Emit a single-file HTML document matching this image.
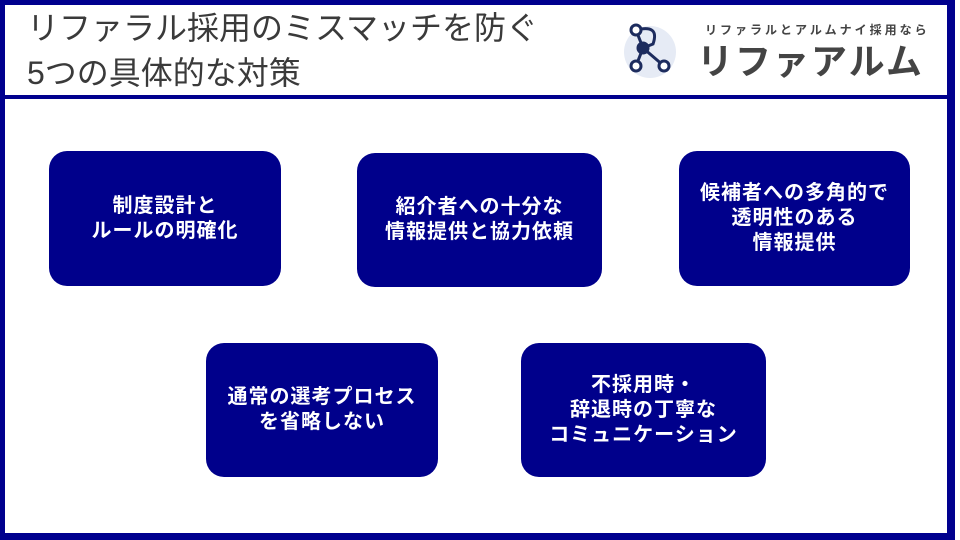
<!DOCTYPE html>
<html><head><meta charset="utf-8"><style>
body{margin:0;width:960px;height:540px;position:relative;background:#fff;overflow:hidden;font-family:"Liberation Sans","Noto Sans CJK JP",sans-serif}
.frame{position:absolute;left:0;top:0;width:942px;height:528px;border:5px solid #00008e;border-right-width:8px;border-bottom-width:7px}
.div{position:absolute;left:0;top:95px;width:955px;height:4px;background:#00008e}
.t{position:absolute;left:27px;color:#3a3a3a;font-size:32px;line-height:44px;white-space:nowrap}
.b{position:absolute;background:#00008b;border-radius:18px;color:#fff;font-weight:bold;font-size:20px;letter-spacing:1px;line-height:25px;display:flex;align-items:center;justify-content:center;text-align:center}
</style></head><body>
<div class="frame"></div><div class="div"></div>
<div class="t" style="top:6px">リファラル採用のミスマッチを防ぐ</div>
<div class="t" style="top:51px">5つの具体的な対策</div>
<svg style="position:absolute;left:620px;top:20px" width="60" height="62">
<circle cx="30" cy="32" r="26" fill="#e6ebf5"/>
<g stroke="#1d2c5e" stroke-width="3" fill="#fff">
<line x1="16" y1="10" x2="23" y2="28"/><line x1="23" y1="28" x2="16" y2="46"/><line x1="23" y1="28" x2="44" y2="46"/><path d="M16 10 Q40 4 33 24 L23 28" fill="none"/>
<circle cx="16" cy="10" r="5"/><circle cx="16" cy="46" r="5"/><circle cx="44" cy="46" r="5"/><circle cx="23" cy="28" r="5" fill="#1d2c5e"/></g></svg>
<div style="position:absolute;left:705px;top:21px;font-size:12px;color:#444;letter-spacing:3px;font-weight:bold;white-space:nowrap">リファラルとアルムナイ採用なら</div>
<div style="position:absolute;left:697px;top:40px;font-size:36px;color:#444;letter-spacing:2px;font-weight:bold;line-height:44px;white-space:nowrap">リファアルム</div>
<div class="b" style="left:49px;top:151px;width:232px;height:135px">制度設計と<br>ルールの明確化</div>
<div class="b" style="left:357px;top:153px;width:245px;height:134px">紹介者への十分な<br>情報提供と協力依頼</div>
<div class="b" style="left:679px;top:151px;width:231px;height:135px">候補者への多角的で<br>透明性のある<br>情報提供</div>
<div class="b" style="left:206px;top:343px;width:232px;height:134px">通常の選考プロセス<br>を省略しない</div>
<div class="b" style="left:521px;top:343px;width:245px;height:134px">不採用時・<br>辞退時の丁寧な<br>コミュニケーション</div>
</body></html>
